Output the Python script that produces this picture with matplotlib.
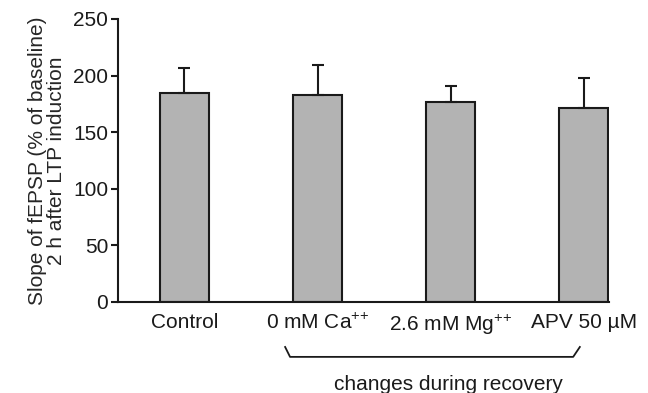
import matplotlib
matplotlib.use("Agg")
import matplotlib.pyplot as plt
import matplotlib.transforms as mtransforms

plt.rcParams['font.family'] = ['Liberation Sans', 'DejaVu Sans']
plt.rcParams['mathtext.default'] = 'regular'

categories = ["Control", "0 mM Ca$^{{+}{+}}$", "2.6 mM Mg$^{{+}{+}}$", "APV 50 µM"]
means = [184.5, 183, 176.5, 171]
errors = [22, 26, 14, 27]
yticks = [0, 50, 100, 150, 200, 250]

fig = plt.figure(figsize=(6.48, 3.93), dpi=100)
ax = fig.add_axes([0.182, 0.2316, 0.758, 0.7201])

x = list(range(len(categories)))
ax.bar(x, means, width=0.37, color="#b3b3b3", edgecolor="#1a1a1a", linewidth=1.5,
       yerr=[[0] * len(errors), errors], capsize=4,
       error_kw=dict(ecolor="#1a1a1a", elinewidth=1.5, capthick=1.5), zorder=2)

ax.set_xlim(-0.5, 3.19)
ax.set_ylim(0, 250)
ax.set_yticks(yticks)
ax.set_xticks(x)
ax.set_xticklabels(categories, fontsize=15, color="#1a1a1a")
ax.tick_params(axis='x', length=0, pad=8)
ax.tick_params(axis='y', labelsize=15, length=5, width=1.5, pad=2, color="#1a1a1a",
               labelcolor="#1a1a1a")
for s in ["top", "right"]:
    ax.spines[s].set_visible(False)
for s in ["left", "bottom"]:
    ax.spines[s].set_linewidth(1.5)
    ax.spines[s].set_color("#1a1a1a")

ax.set_ylabel("Slope of fEPSP (% of baseline)\n2 h after LTP induction", fontsize=15,
              labelpad=5, linespacing=1.0, color="#262626")

trans = mtransforms.blended_transform_factory(ax.transData, ax.transAxes)
ax.plot([0.756, 0.793, 2.92, 2.97], [-0.159, -0.194, -0.194, -0.159], transform=trans,
        color="#1a1a1a", linewidth=1.3, clip_on=False)
ax.text(1.98, -0.29, "changes during recovery", transform=trans, ha="center", va="center",
        fontsize=15, color="#1a1a1a")

fig.savefig("out.png", dpi=100)
